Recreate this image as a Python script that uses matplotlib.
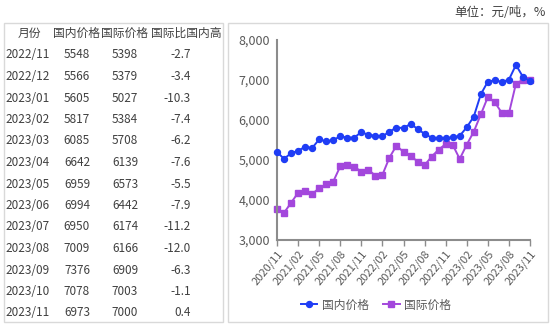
import numpy as np
import pandas as pd
import matplotlib
matplotlib.use("Agg")
import matplotlib.pyplot as plt
from matplotlib.patches import Rectangle

plt.rcParams['font.family'] = ['Noto Sans CJK SC', 'DejaVu Sans']

# monthly prices, 2020/11 - 2023/11 (元/吨)
months = pd.period_range('2020-11', '2023-11', freq='M')
domestic = [5200, 5030, 5170, 5230, 5330, 5300, 5515, 5465, 5500, 5590, 5560, 5560,
            5700, 5625, 5610, 5590, 5710, 5810, 5800, 5900, 5780, 5650, 5560, 5540,
            5548, 5566, 5605, 5817, 6085, 6642, 6959, 6994, 6950, 7009, 7376, 7078, 6973]
intl = [3780, 3680, 3930, 4180, 4230, 4150, 4295, 4390, 4460, 4840, 4870, 4830,
        4710, 4755, 4610, 4630, 5060, 5360, 5200, 5110, 4960, 4870, 5085, 5260,
        5398, 5379, 5027, 5384, 5708, 6139, 6573, 6442, 6174, 6166, 6909, 7003, 7000]
xtick_labels = ['2020/11', '2021/02', '2021/05', '2021/08', '2021/11', '2022/02', '2022/05',
                '2022/08', '2022/11', '2023/02', '2023/05', '2023/08', '2023/11']

# table on the left
table_header = ['月份', '国内价格', '国际价格', '国际比国内高']
table_months = ['2022/11', '2022/12', '2023/01', '2023/02', '2023/03', '2023/04', '2023/05',
                '2023/06', '2023/07', '2023/08', '2023/09', '2023/10', '2023/11']
table_dom = ['5548', '5566', '5605', '5817', '6085', '6642', '6959', '6994', '6950',
             '7009', '7376', '7078', '6973']
table_intl = ['5398', '5379', '5027', '5384', '5708', '6139', '6573', '6442', '6174',
              '6166', '6909', '7003', '7000']
table_ratio = ['-2.7', '-3.4', '-10.3', '-7.4', '-6.2', '-7.6', '-5.5', '-7.9', '-11.2',
               '-12.0', '-6.3', '-1.1', '0.4']

W, H = 554, 324
fig = plt.figure(figsize=(W / 100, H / 100), dpi=100)

def fx(px):
    return px / W

def fy(py):
    return 1 - py / H

txt = '#404040'
box = '#d9d9d9'

# frames
fig.add_artist(Rectangle((fx(4), fy(322)), fx(219), 299 / H, transform=fig.transFigure,
                         fill=False, edgecolor=box, lw=1))
fig.add_artist(Rectangle((fx(228), fy(322)), fx(320), 299 / H, transform=fig.transFigure,
                         fill=False, edgecolor=box, lw=1))

fig.text(fx(546), fy(13), '单位：元/吨，%', fontsize=9, color=txt, ha='right', va='center')

# table text
hdr_x = [29, 77, 125, 186]
fs = 8.5
for hx, h in zip(hdr_x, table_header):
    fig.text(fx(hx), fy(33), h, fontsize=fs, color=txt, ha='center', va='center')
for i in range(len(table_months)):
    y = fy(55 + i * 21.5)
    fig.text(fx(28), y, table_months[i], fontsize=fs, color=txt, ha='center', va='center')
    fig.text(fx(77), y, table_dom[i], fontsize=fs, color=txt, ha='center', va='center')
    fig.text(fx(125), y, table_intl[i], fontsize=fs, color=txt, ha='center', va='center')
    fig.text(fx(191), y, table_ratio[i], fontsize=fs, color=txt, ha='right', va='center')

# line chart
ax = fig.add_axes([fx(277), fy(240), fx(530 - 277), 200 / H])
x = np.arange(len(months))
ax.plot(x, domestic, color='#1f3df5', lw=1.4, marker='o', ms=4.3, label='国内价格', clip_on=False, zorder=3)
ax.plot(x, intl, color='#a347dc', lw=1.4, marker='s', ms=4.3, label='国际价格', clip_on=False, zorder=2)

ax.set_xlim(0, len(months) - 1)
ax.set_ylim(3000, 8000)
ax.set_yticks(np.arange(3000, 8001, 1000))
ax.set_yticklabels([f'{v:,}' for v in range(3000, 8001, 1000)])
ax.set_xticks(np.arange(0, len(months), 3))
ax.set_xticklabels(xtick_labels, rotation=50, ha='right', rotation_mode='anchor')

for s in ['top', 'right']:
    ax.spines[s].set_visible(False)
for s in ['left', 'bottom']:
    ax.spines[s].set_color('#8c8c8c')
    ax.spines[s].set_linewidth(1.5)
ax.tick_params(axis='y', length=0, labelsize=9, labelcolor='#595959', pad=5)
ax.tick_params(axis='x', length=4, width=1, color='#8c8c8c', labelsize=8, labelcolor='#595959', pad=2)

fig.legend(loc='center', bbox_to_anchor=(fx(376), fy(305)), ncol=2, frameon=False,
           fontsize=8.5, handlelength=1.4, columnspacing=1.2, handletextpad=0.4,
           labelcolor='#595959')

fig.savefig('out.png', dpi=100)
